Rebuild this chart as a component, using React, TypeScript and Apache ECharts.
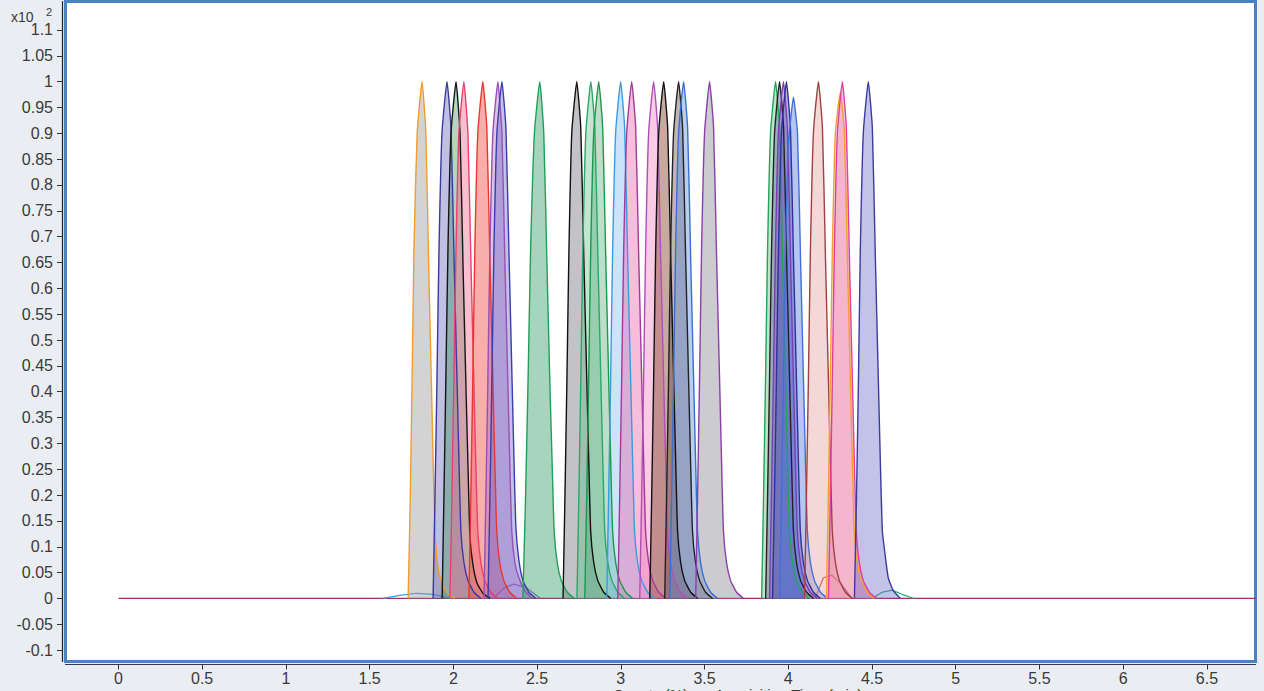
import React, { useEffect, useRef } from "react";
import * as echarts from "echarts";

// x: acquisition time (min), y: counts (x10^2)
const X_TICKS = [0, 0.5, 1, 1.5, 2, 2.5, 3, 3.5, 4, 4.5, 5, 5.5, 6, 6.5];
const Y_TICKS = [-0.1, -0.05, 0, 0.05, 0.1, 0.15, 0.2, 0.25, 0.3, 0.35, 0.4, 0.45, 0.5, 0.55, 0.6, 0.65, 0.7, 0.75, 0.8, 0.85, 0.9, 0.95, 1, 1.05, 1.1];

const BASELINE: [number, number][] = [[0, 0], [6.79, 0]];

const P01: [number, number][] = [[1.730, 0], [1.742, 0.18], [1.754, 0.43], [1.765, 0.68], [1.784, 0.9], [1.813, 1], [1.836, 0.9], [1.853, 0.64], [1.870, 0.4], [1.881, 0.24], [1.892, 0.12], [1.908, 0.06], [1.930, 0.03], [1.965, 0.01], [2.01, 0]];
const P02: [number, number][] = [[1.879, 0], [1.890, 0.19], [1.902, 0.42], [1.914, 0.67], [1.932, 0.9], [1.962, 1], [1.986, 0.91], [2.004, 0.66], [2.022, 0.42], [2.034, 0.26], [2.045, 0.13], [2.063, 0.07], [2.087, 0.035], [2.123, 0.012], [2.165, 0]];
const P03: [number, number][] = [[1.933, 0], [1.944, 0.2], [1.956, 0.44], [1.968, 0.68], [1.986, 0.9], [2.016, 1], [2.040, 0.9], [2.058, 0.64], [2.076, 0.4], [2.088, 0.25], [2.099, 0.12], [2.117, 0.065], [2.141, 0.03], [2.177, 0.01], [2.219, 0]];
const P04: [number, number][] = [[1.980, 0], [1.991, 0.19], [2.003, 0.42], [2.015, 0.66], [2.033, 0.9], [2.063, 1], [2.087, 0.9], [2.105, 0.65], [2.123, 0.41], [2.135, 0.25], [2.146, 0.13], [2.164, 0.07], [2.188, 0.035], [2.224, 0.012], [2.266, 0]];
const P05: [number, number][] = [[2.093, 0], [2.104, 0.19], [2.116, 0.42], [2.128, 0.67], [2.146, 0.9], [2.176, 1], [2.200, 0.91], [2.218, 0.66], [2.236, 0.42], [2.248, 0.26], [2.259, 0.13], [2.277, 0.07], [2.301, 0.035], [2.337, 0.012], [2.379, 0]];
const P06: [number, number][] = [[2.183, 0], [2.194, 0.19], [2.206, 0.42], [2.218, 0.67], [2.236, 0.9], [2.266, 1], [2.290, 0.9], [2.308, 0.65], [2.326, 0.41], [2.338, 0.25], [2.349, 0.13], [2.367, 0.07], [2.391, 0.04], [2.427, 0.015], [2.469, 0]];
const P07: [number, number][] = [[2.207, 0], [2.218, 0.19], [2.230, 0.42], [2.242, 0.67], [2.260, 0.9], [2.290, 1], [2.314, 0.91], [2.332, 0.67], [2.350, 0.43], [2.362, 0.27], [2.373, 0.14], [2.391, 0.075], [2.415, 0.035], [2.451, 0.012], [2.493, 0]];
const P08: [number, number][] = [[2.415, 0], [2.430, 0.18], [2.446, 0.42], [2.461, 0.67], [2.484, 0.9], [2.516, 1], [2.540, 0.9], [2.558, 0.66], [2.576, 0.42], [2.590, 0.26], [2.602, 0.13], [2.620, 0.07], [2.644, 0.035], [2.680, 0.012], [2.722, 0]];
const P09: [number, number][] = [[2.655, 0], [2.666, 0.19], [2.678, 0.42], [2.690, 0.67], [2.707, 0.9], [2.737, 1], [2.761, 0.91], [2.779, 0.66], [2.797, 0.42], [2.809, 0.26], [2.820, 0.13], [2.838, 0.07], [2.862, 0.035], [2.898, 0.012], [2.940, 0]];
const P10: [number, number][] = [[2.738, 0], [2.749, 0.19], [2.761, 0.42], [2.773, 0.67], [2.791, 0.9], [2.821, 1], [2.845, 0.91], [2.863, 0.66], [2.881, 0.42], [2.893, 0.26], [2.904, 0.13], [2.922, 0.07], [2.946, 0.035], [2.982, 0.012], [3.024, 0]];
const P11: [number, number][] = [[2.785, 0], [2.796, 0.19], [2.808, 0.42], [2.820, 0.67], [2.838, 0.9], [2.868, 1], [2.892, 0.91], [2.910, 0.66], [2.928, 0.42], [2.940, 0.26], [2.951, 0.13], [2.969, 0.07], [2.993, 0.035], [3.029, 0.012], [3.071, 0]];
const P12: [number, number][] = [[2.916, 0], [2.927, 0.19], [2.939, 0.42], [2.951, 0.67], [2.969, 0.9], [2.999, 1], [3.023, 0.91], [3.041, 0.66], [3.059, 0.42], [3.071, 0.26], [3.082, 0.13], [3.100, 0.07], [3.124, 0.035], [3.160, 0.012], [3.202, 0]];
const P13: [number, number][] = [[2.982, 0], [2.993, 0.19], [3.005, 0.42], [3.017, 0.67], [3.035, 0.9], [3.065, 1], [3.089, 0.91], [3.107, 0.66], [3.125, 0.42], [3.137, 0.26], [3.148, 0.13], [3.166, 0.07], [3.190, 0.035], [3.226, 0.012], [3.268, 0]];
const P14: [number, number][] = [[3.113, 0], [3.124, 0.19], [3.136, 0.42], [3.148, 0.67], [3.166, 0.9], [3.196, 1], [3.220, 0.91], [3.238, 0.66], [3.256, 0.42], [3.268, 0.26], [3.279, 0.13], [3.297, 0.07], [3.321, 0.035], [3.357, 0.012], [3.399, 0]];
const P15: [number, number][] = [[3.173, 0], [3.184, 0.19], [3.196, 0.42], [3.208, 0.67], [3.226, 0.9], [3.256, 1], [3.280, 0.91], [3.298, 0.66], [3.316, 0.42], [3.328, 0.26], [3.339, 0.13], [3.357, 0.07], [3.381, 0.035], [3.417, 0.012], [3.459, 0]];
const P16: [number, number][] = [[3.262, 0], [3.273, 0.19], [3.285, 0.42], [3.297, 0.67], [3.315, 0.9], [3.345, 1], [3.369, 0.91], [3.387, 0.66], [3.405, 0.42], [3.417, 0.26], [3.428, 0.13], [3.446, 0.07], [3.470, 0.035], [3.506, 0.012], [3.548, 0]];
const P17: [number, number][] = [[3.292, 0], [3.303, 0.19], [3.315, 0.42], [3.327, 0.67], [3.345, 0.9], [3.375, 1], [3.399, 0.91], [3.417, 0.66], [3.435, 0.42], [3.447, 0.26], [3.458, 0.13], [3.476, 0.07], [3.500, 0.035], [3.536, 0.012], [3.578, 0]];
const P18: [number, number][] = [[3.447, 0], [3.458, 0.19], [3.470, 0.42], [3.482, 0.67], [3.500, 0.9], [3.530, 1], [3.554, 0.91], [3.572, 0.66], [3.590, 0.42], [3.602, 0.26], [3.613, 0.13], [3.631, 0.07], [3.655, 0.035], [3.691, 0.012], [3.733, 0]];
const P19: [number, number][] = [[3.841, 0], [3.852, 0.19], [3.864, 0.42], [3.876, 0.67], [3.894, 0.9], [3.924, 1], [3.948, 0.91], [3.966, 0.66], [3.984, 0.42], [3.996, 0.26], [4.007, 0.13], [4.025, 0.07], [4.049, 0.035], [4.085, 0.012], [4.127, 0]];
const P20: [number, number][] = [[3.865, 0], [3.876, 0.19], [3.888, 0.42], [3.900, 0.67], [3.918, 0.9], [3.948, 1], [3.972, 0.91], [3.990, 0.66], [4.008, 0.42], [4.020, 0.26], [4.031, 0.13], [4.049, 0.07], [4.073, 0.035], [4.109, 0.012], [4.151, 0]];
const P21: [number, number][] = [[3.888, 0], [3.899, 0.19], [3.911, 0.42], [3.923, 0.67], [3.941, 0.9], [3.971, 1], [3.995, 0.91], [4.013, 0.66], [4.031, 0.42], [4.043, 0.26], [4.054, 0.13], [4.072, 0.07], [4.096, 0.035], [4.132, 0.012], [4.174, 0]];
const P22: [number, number][] = [[3.906, 0], [3.917, 0.19], [3.929, 0.42], [3.941, 0.67], [3.959, 0.9], [3.989, 1], [4.013, 0.91], [4.031, 0.66], [4.049, 0.42], [4.061, 0.26], [4.072, 0.13], [4.090, 0.07], [4.114, 0.035], [4.150, 0.012], [4.192, 0]];
const P23: [number, number][] = [[3.948, 0], [3.959, 0.19], [3.971, 0.42], [3.983, 0.67], [4.001, 0.88], [4.031, 0.97], [4.055, 0.9], [4.073, 0.66], [4.091, 0.42], [4.103, 0.26], [4.114, 0.13], [4.132, 0.07], [4.156, 0.035], [4.192, 0.012], [4.234, 0]];
const P24: [number, number][] = [[4.097, 0], [4.108, 0.19], [4.120, 0.42], [4.132, 0.67], [4.150, 0.9], [4.180, 1], [4.204, 0.91], [4.222, 0.66], [4.240, 0.42], [4.252, 0.26], [4.263, 0.13], [4.281, 0.07], [4.305, 0.035], [4.341, 0.012], [4.383, 0]];
const P25: [number, number][] = [[4.228, 0], [4.239, 0.19], [4.251, 0.42], [4.263, 0.67], [4.281, 0.9], [4.311, 0.98], [4.335, 0.9], [4.353, 0.66], [4.371, 0.42], [4.383, 0.26], [4.394, 0.13], [4.412, 0.07], [4.436, 0.035], [4.472, 0.012], [4.514, 0]];
const P26: [number, number][] = [[4.240, 0], [4.251, 0.19], [4.263, 0.42], [4.275, 0.67], [4.293, 0.9], [4.323, 1], [4.347, 0.91], [4.365, 0.66], [4.383, 0.42], [4.395, 0.26], [4.406, 0.13], [4.424, 0.07], [4.448, 0.035], [4.484, 0.012], [4.526, 0]];
const P27: [number, number][] = [[4.395, 0], [4.407, 0.19], [4.419, 0.42], [4.430, 0.67], [4.448, 0.9], [4.478, 1], [4.502, 0.91], [4.520, 0.66], [4.538, 0.42], [4.550, 0.26], [4.562, 0.13], [4.580, 0.08], [4.597, 0.04], [4.627, 0.015], [4.669, 0]];

// small humps near the baseline
const B01: [number, number][] = [[1.58, 0], [1.68, 0.006], [1.78, 0.01], [1.88, 0.008], [1.98, 0]];
const B02: [number, number][] = [[2.24, 0], [2.30, 0.02], [2.36, 0.028], [2.44, 0.02], [2.52, 0]];
const B03: [number, number][] = [[4.16, 0], [4.21, 0.04], [4.26, 0.045], [4.31, 0.03], [4.38, 0]];
const B04: [number, number][] = [[4.50, 0], [4.56, 0.012], [4.62, 0.016], [4.68, 0.008], [4.75, 0]];

const PEAKS = [P01, P02, P03, P04, P05, P06, P07, P08, P09, P10, P11, P12, P13, P14, P15, P16, P17, P18, P19, P20, P21, P22, P23, P24, P25, P26, P27];
const PEAK_LINE = ["#f29b30", "#3a3a9c", "#151515", "#e8416e", "#e8372b", "#9b4fb2", "#3c3caa", "#1f9f5a", "#111111", "#2aa868", "#189a48", "#3b9be0", "#a23a9c", "#b04fb8", "#111111", "#222222", "#3a6fd0", "#8a3fa8", "#23a35b", "#222222", "#7a3fb0", "#30309a", "#3f6fd8", "#a04040", "#f0a030", "#e0409a", "#3b3b9e"];
const PEAK_FILL = ["rgba(150,150,150,0.6)", "rgba(90,90,180,0.55)", "rgba(60,140,90,0.55)", "rgba(240,100,140,0.6)", "rgba(240,80,70,0.65)", "rgba(170,100,190,0.55)", "rgba(100,100,200,0.55)", "rgba(60,160,110,0.65)", "rgba(130,130,140,0.7)", "rgba(100,190,140,0.55)", "rgba(80,170,120,0.55)", "rgba(130,190,240,0.6)", "rgba(230,100,170,0.6)", "rgba(240,130,190,0.6)", "rgba(140,80,60,0.7)", "rgba(100,60,60,0.55)", "rgba(90,140,220,0.6)", "rgba(150,150,160,0.7)", "rgba(100,190,130,0.6)", "rgba(100,100,160,0.6)", "rgba(120,90,190,0.6)", "rgba(80,80,180,0.6)", "rgba(80,120,220,0.6)", "rgba(230,170,170,0.65)", "rgba(240,170,120,0.35)", "rgba(230,110,180,0.6)", "rgba(100,100,200,0.55)"];
const BUMPS = [B01, B02, B03, B04];
const BUMP_LINE = ["#3b9be0", "#9b4fb2", "#a04040", "#2aa868"];

export default function App() {
  const ref = useRef<HTMLDivElement>(null);
  useEffect(() => {
    if (!ref.current) return;
    const chart = echarts.init(ref.current, null, { renderer: "svg" });
    const fmt = (v: number) => String(Number(v.toFixed(2)));
    const series: any[] = [
      {
        type: "line",
        data: BASELINE,
        showSymbol: false,
        lineStyle: { color: "#9e2f63", width: 1.3 },
        z: 2,
      },
    ];
    BUMPS.forEach((d, i) => {
      series.push({
        type: "line",
        data: d,
        showSymbol: false,
        lineStyle: { color: BUMP_LINE[i], width: 1.2 },
        z: 2,
      });
    });
    PEAKS.forEach((d, i) => {
      series.push({
        type: "line",
        data: d,
        showSymbol: false,
        smooth: 0.15,
        lineStyle: { color: PEAK_LINE[i], width: 1.4 },
        areaStyle: { color: PEAK_FILL[i], origin: 0 },
        z: 3,
      });
    });
    chart.setOption({
      animation: false,
      backgroundColor: "#eaedf2",
      grid: {
        show: true,
        left: 65.5,
        right: 8.5,
        top: 1.5,
        bottom: 29.5,
        backgroundColor: "#ffffff",
        borderColor: "#4a80c4",
        borderWidth: 3,
      },
      xAxis: {
        type: "value",
        min: -0.316,
        max: 6.79,
        offset: 3,
        axisLine: { show: true, onZero: false, lineStyle: { color: "#333a44", width: 1.2 } },
        axisTick: { show: true, length: 5, customValues: X_TICKS, lineStyle: { color: "#333" } },
        axisLabel: {
          customValues: X_TICKS,
          formatter: fmt,
          margin: 6,
          fontSize: 16,
          fontFamily: "Liberation Sans, Arial, sans-serif",
          color: "#3a3a3a",
        },
        splitLine: { show: false },
      },
      yAxis: {
        type: "value",
        min: -0.122,
        max: 1.155,
        offset: 3.5,
        axisLine: { show: true, onZero: false, lineStyle: { color: "#222", width: 1.2 } },
        axisTick: { show: true, length: 5, customValues: Y_TICKS, lineStyle: { color: "#333" } },
        axisLabel: {
          customValues: Y_TICKS,
          formatter: fmt,
          margin: 9,
          fontSize: 16,
          fontFamily: "Liberation Sans, Arial, sans-serif",
          color: "#3a3a3a",
        },
        splitLine: { show: false },
      },
      graphic: [
        { type: "text", left: 11, top: 10, style: { text: "x10", font: "14px Liberation Sans, Arial, sans-serif", fill: "#3a3a3a" } },
        { type: "text", left: 46, top: 6, style: { text: "2", font: "11px Liberation Sans, Arial, sans-serif", fill: "#3a3a3a" } },
        { type: "text", left: 613, top: 687, style: { text: "Counts (%) vs. Acquisition Time (min)", font: "15px Liberation Sans, Arial, sans-serif", fill: "#3a3a3a" } },
      ],
      series,
    });
    return () => chart.dispose();
  }, []);
  return <div ref={ref} style={{ position: "absolute", left: 0, top: 0, width: 1264, height: 691 }} />;
}
